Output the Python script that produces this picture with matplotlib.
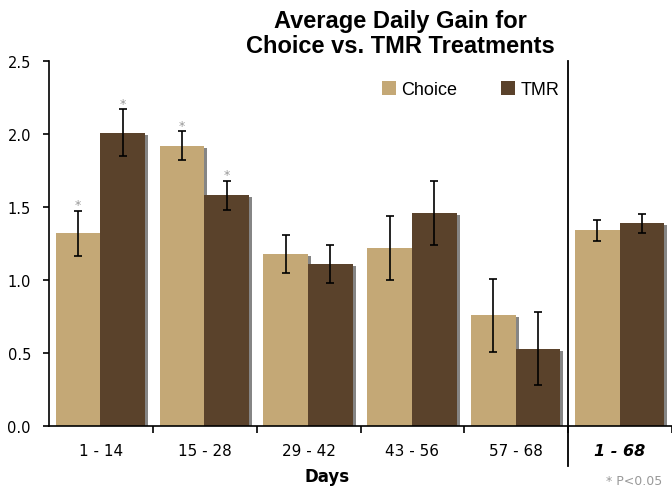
import matplotlib
matplotlib.use('Agg')
import matplotlib.pyplot as plt
import matplotlib.transforms as mtransforms
from matplotlib.patches import Patch

# data
periods = ['1 - 14', '15 - 28', '29 - 42', '43 - 56', '57 - 68', '1 - 68']
choice = [1.32, 1.92, 1.18, 1.22, 0.76, 1.34]
choice_err = [0.155, 0.10, 0.13, 0.22, 0.25, 0.07]
tmr = [2.01, 1.58, 1.11, 1.46, 0.53, 1.39]
tmr_err = [0.16, 0.10, 0.13, 0.22, 0.25, 0.065]
choice_sig = [True, True, False, False, False, False]
tmr_sig = [True, True, False, False, False, False]
yticks = [0.0, 0.5, 1.0, 1.5, 2.0, 2.5]

C_CHOICE = '#c4a876'
C_TMR = '#5a422b'
C_SHADOW = '#858585'

fig = plt.figure(figsize=(6.72, 4.89), dpi=100)
ax = fig.add_axes([49 / 672, 62 / 489, 623 / 672, 365 / 489])

width = 0.43
off_choice = 0.065
off_tmr = 0.495
dx, dy = 0.03, 0.014

for i in range(len(periods)):
    for off, val, err, col, sig in [(off_choice, choice[i], choice_err[i], C_CHOICE, choice_sig[i]),
                                    (off_tmr, tmr[i], tmr_err[i], C_TMR, tmr_sig[i])]:
        left = i + off
        # drop shadow
        ax.bar(left + dx, val - dy, width=width, align='edge', color=C_SHADOW, zorder=1)
        ax.bar(left, val, width=width, align='edge', color=col, zorder=2)
        ax.errorbar(left + width / 2, val, yerr=err, fmt='none', ecolor='black',
                    elinewidth=1.2, capsize=3, capthick=1.2, zorder=4)
        if sig:
            ax.text(left + width / 2, val + err + 0.04, '*', ha='center', va='center',
                    color='#999999', fontsize=9, zorder=5)

ax.set_xlim(0, 6)
ax.set_ylim(0, 2.5)
ax.spines['top'].set_visible(False)
ax.spines['right'].set_visible(False)
ax.spines['left'].set_linewidth(1.2)
ax.spines['bottom'].set_linewidth(1.2)

ax.set_yticks(yticks)
ax.set_yticklabels(['%.1f' % v for v in yticks], fontsize=10.5, family='DejaVu Sans')
ax.tick_params(axis='y', direction='out', length=4, width=1.2, pad=9)

ax.set_xticks([1, 2, 3, 4, 5, 6])
ax.set_xticklabels([])
ax.tick_params(axis='x', which='major', direction='out', length=5, width=1.2)
ax.set_xticks([i + 0.5 for i in range(len(periods))], minor=True)
ax.set_xticklabels(periods, minor=True, fontsize=11, family='DejaVu Sans')
ax.tick_params(axis='x', which='minor', length=0, pad=12)
lab = ax.get_xticklabels(minor=True)[-1]
lab.set_fontweight('bold')
lab.set_fontstyle('italic')
lab.set_fontsize(11.5)

# separator between periods and overall
trans = mtransforms.blended_transform_factory(ax.transData, ax.transAxes)
ax.plot([5, 5], [1.0, -0.11], color='black', lw=1.3, transform=trans, clip_on=False, zorder=6)

handles = [Patch(facecolor=C_CHOICE, label='Choice'), Patch(facecolor=C_TMR, label='TMR')]
ax.legend(handles=handles, ncol=2, frameon=False, loc='upper left',
          bbox_to_anchor=(382 / 672, 1 - 82 / 489), bbox_transform=fig.transFigure,
          borderpad=0, borderaxespad=0, handlelength=0.78, handleheight=0.78,
          handletextpad=0.3, columnspacing=2.4,
          prop={'family': 'Liberation Sans', 'size': 13})

fig.text(400 / 672, 1 - 34 / 489, 'Average Daily Gain for\nChoice vs. TMR Treatments',
         ha='center', va='center', fontsize=17, fontweight='bold',
         family='Liberation Sans', linespacing=1.1)
fig.text(327 / 672, 1 - 477 / 489, 'Days', ha='center', va='center',
         fontsize=12, fontweight='bold', family='DejaVu Sans')
fig.text(662 / 672, 1 - 482 / 489, '* P<0.05', ha='right', va='center',
         fontsize=9, color='#999999', family='DejaVu Sans')

fig.savefig('out.png', dpi=100)
